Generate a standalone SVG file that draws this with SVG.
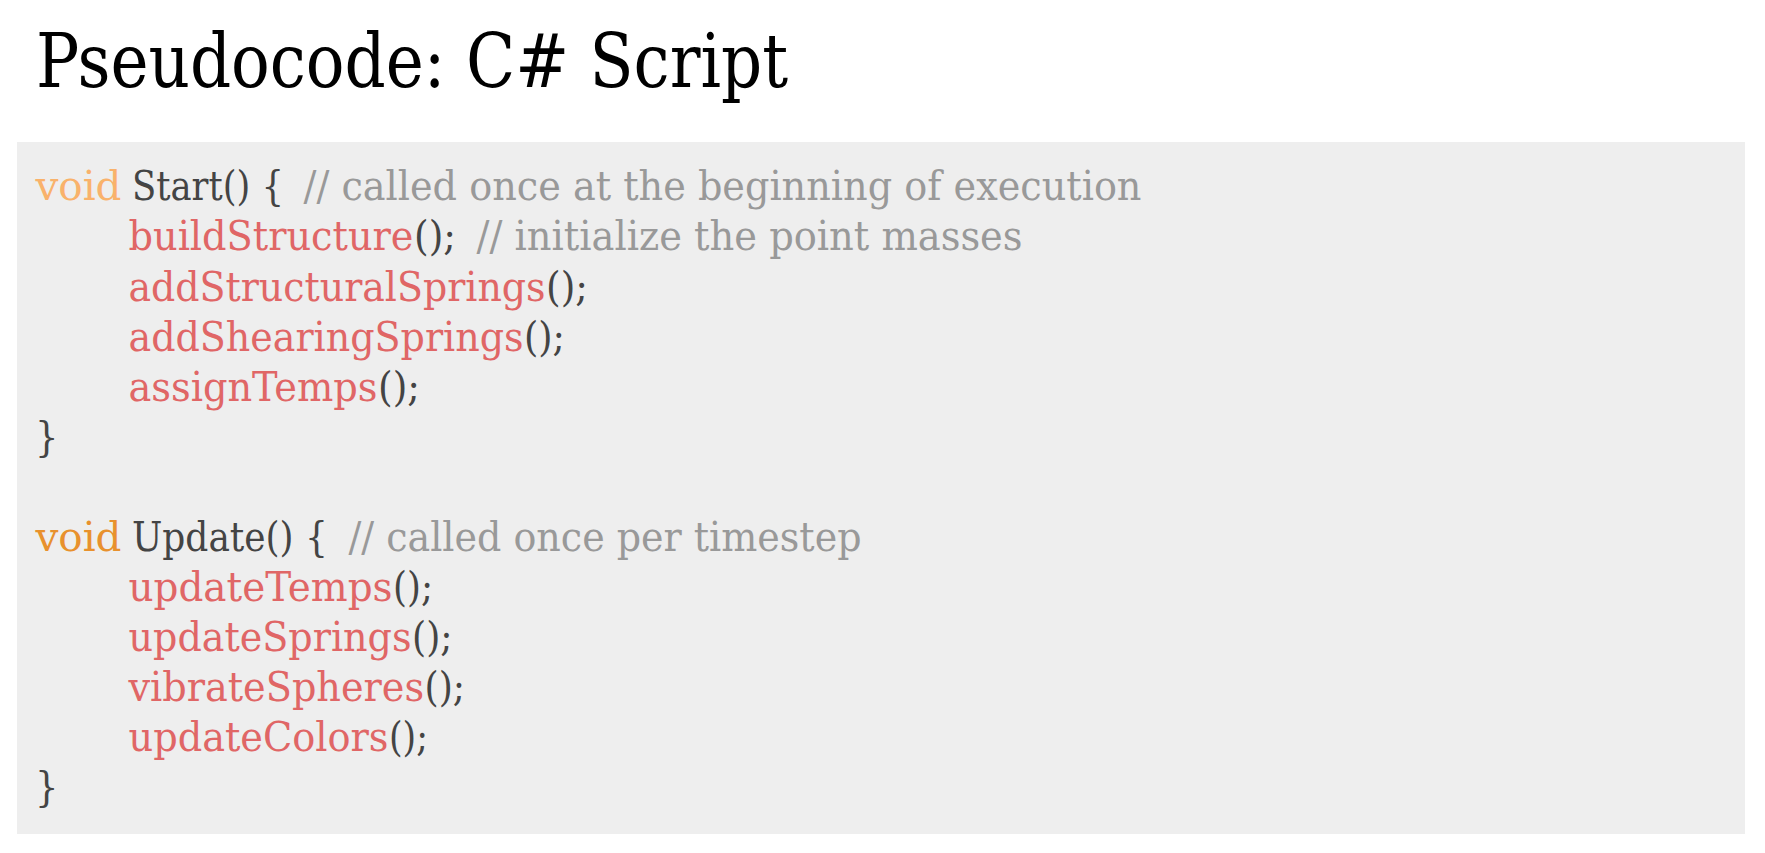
<svg xmlns="http://www.w3.org/2000/svg" width="1765" height="853" viewBox="0 0 1765 853">
<style>
text { font-family: "DejaVu Serif Condensed", "DejaVu Serif", "Liberation Serif", serif; }
.title { font-size: 74px; fill: #000000; }
.code { font-size: 41px; }
.kw1 { fill: #f9b26b; }
.kw2 { fill: #e8912d; }
.fn { fill: #e06666; }
.pl { fill: #444444; }
.cm { fill: #999999; }
</style>
<rect width="1765" height="853" fill="#ffffff"/>
<g id="title">
<text class="title" x="36" y="87" textLength="752" lengthAdjust="spacingAndGlyphs">Pseudocode: C# Script</text>
</g>
<g id="code-block">
<rect x="17" y="142" width="1728" height="692" fill="#eeeeee"/>
<g class="code">
<text class="kw1" x="35.5" y="200" textLength="86" lengthAdjust="spacingAndGlyphs">void</text>
<text class="pl" x="132" y="200" textLength="152" lengthAdjust="spacingAndGlyphs">Start() {</text>
<text class="cm" x="303.5" y="200" textLength="838" lengthAdjust="spacingAndGlyphs">// called once at the beginning of execution</text>

<text class="fn" x="128.5" y="250" textLength="285" lengthAdjust="spacingAndGlyphs">buildStructure</text>
<text class="pl" x="414" y="250" textLength="42" lengthAdjust="spacingAndGlyphs">();</text>
<text class="cm" x="476.5" y="250" textLength="546" lengthAdjust="spacingAndGlyphs">// initialize the point masses</text>

<text class="fn" x="128.5" y="300.5" textLength="417" lengthAdjust="spacingAndGlyphs">addStructuralSprings</text>
<text class="pl" x="546" y="300.5" textLength="42" lengthAdjust="spacingAndGlyphs">();</text>

<text class="fn" x="128.5" y="350.5" textLength="395" lengthAdjust="spacingAndGlyphs">addShearingSprings</text>
<text class="pl" x="524" y="350.5" textLength="41" lengthAdjust="spacingAndGlyphs">();</text>

<text class="fn" x="128.5" y="400.5" textLength="249" lengthAdjust="spacingAndGlyphs">assignTemps</text>
<text class="pl" x="378" y="400.5" textLength="42" lengthAdjust="spacingAndGlyphs">();</text>

<text class="pl" x="35" y="450.5">}</text>

<text class="kw2" x="35.5" y="550.7" textLength="86" lengthAdjust="spacingAndGlyphs">void</text>
<text class="pl" x="132" y="550.7" textLength="196" lengthAdjust="spacingAndGlyphs">Update() {</text>
<text class="cm" x="348.5" y="550.7" textLength="513" lengthAdjust="spacingAndGlyphs">// called once per timestep</text>

<text class="fn" x="128.5" y="601" textLength="264" lengthAdjust="spacingAndGlyphs">updateTemps</text>
<text class="pl" x="393" y="601" textLength="40" lengthAdjust="spacingAndGlyphs">();</text>

<text class="fn" x="128.5" y="651" textLength="283" lengthAdjust="spacingAndGlyphs">updateSprings</text>
<text class="pl" x="412" y="651" textLength="40.5" lengthAdjust="spacingAndGlyphs">();</text>

<text class="fn" x="128.5" y="701" textLength="295.5" lengthAdjust="spacingAndGlyphs">vibrateSpheres</text>
<text class="pl" x="424.5" y="701" textLength="40.5" lengthAdjust="spacingAndGlyphs">();</text>

<text class="fn" x="128.5" y="751" textLength="260" lengthAdjust="spacingAndGlyphs">updateColors</text>
<text class="pl" x="389" y="751" textLength="39" lengthAdjust="spacingAndGlyphs">();</text>

<text class="pl" x="35" y="801">}</text>
</g>
</g>
</svg>
